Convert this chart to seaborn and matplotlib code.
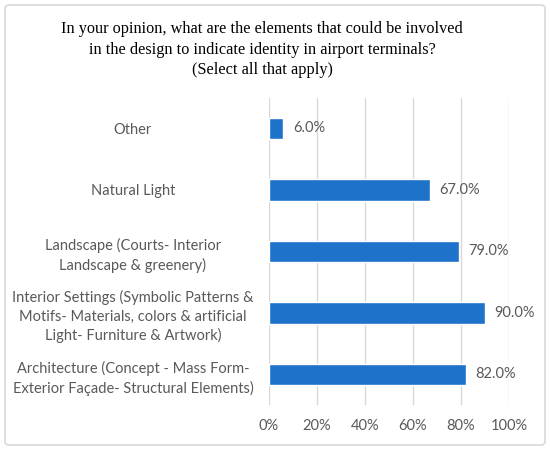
import matplotlib
matplotlib.use("Agg")
import matplotlib.pyplot as plt
import seaborn as sns
import pandas as pd
from matplotlib.patches import FancyBboxPatch
from matplotlib.ticker import PercentFormatter

categories = [
    "Other",
    "Natural Light",
    "Landscape (Courts- Interior\nLandscape & greenery)",
    "Interior Settings (Symbolic Patterns &\nMotifs- Materials, colors & artificial\nLight- Furniture & Artwork)",
    "Architecture (Concept - Mass Form-\nExterior Façade- Structural Elements)",
]
values = [6.0, 67.0, 79.0, 90.0, 82.0]
ticks = [0, 20, 40, 60, 80, 100]
title = ("In your opinion, what are the elements that could be involved\n"
         "in the design to indicate identity in airport terminals?\n"
         "(Select all that apply)")

df = pd.DataFrame({"cat": categories, "val": values})

sns.set_theme(style="white")
plt.rcParams["font.family"] = ["Lato", "DejaVu Sans"]

fig = plt.figure(figsize=(5.5, 4.5), dpi=100)
ax = fig.add_axes([269 / 550, 0.10, 240 / 550, 0.683])

sns.barplot(data=df, x="val", y="cat", orient="h", color="#1F72C9",
            width=0.35, saturation=1, ax=ax, zorder=3)

ax.set_xlim(0, 100)
ax.set_ylim(4.5, -0.5)
ax.set_xticks(ticks)
ax.xaxis.set_major_formatter(PercentFormatter(decimals=0))
ax.grid(axis="x", color="#D9D9D9", linewidth=1, zorder=0)
ax.grid(axis="y", visible=False)
for s in ax.spines.values():
    s.set_visible(False)
ax.set_xlabel("")
ax.set_ylabel("")
ax.tick_params(axis="x", length=0, labelsize=10.5, labelcolor="#595959", pad=10)
ax.tick_params(axis="y", length=0, labelsize=10.5, labelcolor="#595959", pad=98)
for lab in ax.get_yticklabels():
    lab.set_horizontalalignment("center")
    lab.set_multialignment("center")
    lab.set_linespacing(1.4)

for c in ax.containers:
    ax.bar_label(c, labels=[f"{v:.1f}%" for v in values], padding=7,
                 fontsize=10.5, color="#595959")

fig.text(0.477, 0.953, title, ha="center", va="top", fontsize=11.7,
         family=["Liberation Serif", "DejaVu Serif"], color="black",
         linespacing=1.38)

border = FancyBboxPatch((5 / 550, 5 / 450), 540 / 550, 440 / 450,
                        boxstyle="round,pad=0,rounding_size=0.008",
                        transform=fig.transFigure, fill=False,
                        edgecolor="#D9D9D9", linewidth=1.2)
fig.patches.append(border)

fig.savefig("out.png", dpi=100)
